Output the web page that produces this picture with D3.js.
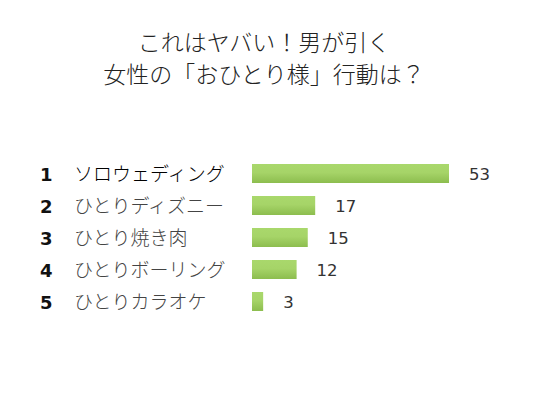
<!DOCTYPE html>
<html><head><meta charset="utf-8">
<script src="https://cdn.jsdelivr.net/npm/d3@7"></script>
<style>body{margin:0;background:#fff}</style>
</head><body>
<script>
const titleLines = ["これはヤバい！男が引く", "女性の「おひとり様」行動は？"];
const ranks = ["1", "2", "3", "4", "5"];
const categories = ["ソロウェディング", "ひとりディズニー", "ひとり焼き肉", "ひとりボーリング", "ひとりカラオケ"];
const values = [53, 17, 15, 12, 3];

const W = 540, H = 400;
const svg = d3.select("body").append("svg").attr("width", W).attr("height", H);
const font = "'Noto Sans CJK JP', sans-serif";

const defs = svg.append("defs");
const g = defs.append("linearGradient").attr("id", "bg").attr("x1", 0).attr("y1", 0).attr("x2", 0).attr("y2", 1);
g.append("stop").attr("offset", "0%").attr("stop-color", "#a9d86c");
g.append("stop").attr("offset", "45%").attr("stop-color", "#a6d468");
g.append("stop").attr("offset", "100%").attr("stop-color", "#8cbd4e");

svg.append("g").selectAll("text").data(titleLines).join("text")
  .attr("x", 264).attr("y", (d, i) => 51 + i * 32)
  .attr("text-anchor", "middle").attr("font-family", font).attr("font-size", 23).attr("font-weight", 300)
  .attr("fill", "#222").text(d => d);

const x = d3.scaleLinear().domain([0, 53]).range([252, 449]);
const y = d3.scaleBand().domain(categories).range([157.5, 317.5]).paddingInner(0.4).paddingOuter(0.2);

const rows = svg.append("g").selectAll("g").data(categories).join("g");
rows.append("rect")
  .attr("x", x(0)).attr("y", d => y(d) + y.bandwidth() / 2 - 9.5)
  .attr("width", (d, i) => x(values[i]) - x(0)).attr("height", 19)
  .attr("fill", "url(#bg)");
rows.append("text")
  .attr("x", 40).attr("y", d => y(d) + y.bandwidth() / 2 + 7)
  .attr("font-family", "'DejaVu Sans', sans-serif").attr("font-weight", "bold").attr("font-size", 18)
  .attr("fill", "#111").text((d, i) => ranks[i]);
rows.append("text")
  .attr("x", 74).attr("y", d => y(d) + y.bandwidth() / 2 + 7)
  .attr("font-family", font).attr("font-size", 19).attr("font-weight", 300)
  .attr("fill", (d, i) => i === 0 ? "#000" : "#444").text(d => d);
rows.append("text")
  .attr("x", (d, i) => x(values[i]) + 20).attr("y", d => y(d) + y.bandwidth() / 2 + 6.5)
  .attr("font-family", "'DejaVu Sans', sans-serif").attr("font-size", 16.5)
  .attr("fill", "#333").text((d, i) => values[i]);
</script>
</body></html>
